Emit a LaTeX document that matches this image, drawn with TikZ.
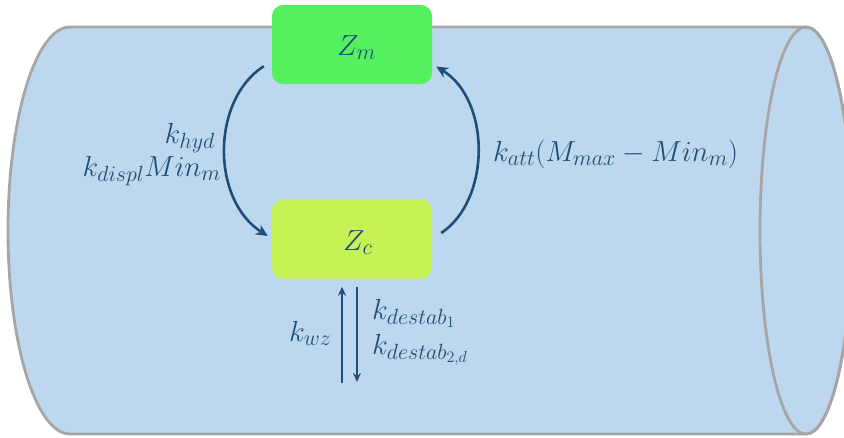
\documentclass[tikz,border=0pt]{standalone}
\usepackage{fix-cm}
\usetikzlibrary{arrows.meta}
\DeclareMathSizes{29}{29}{22}{16}
\definecolor{cylfill}{HTML}{BDD7EE}
\definecolor{cylline}{HTML}{A6A6A6}
\definecolor{darkblue}{HTML}{1F4E79}
\definecolor{zmgreen}{HTML}{55F05E}
\definecolor{zclime}{HTML}{C7F255}
\tikzset{
  box/.style={rounded corners=11pt, minimum width=160pt, minimum height=79pt, inner sep=0pt},
  lbl/.style={text=darkblue, font=\fontsize{29}{33}\selectfont, inner sep=0pt},
  flow/.style={draw=darkblue, line width=2.6pt, -{Stealth[length=12pt,width=11pt]}},
  cyl/.style={draw=cylline, line width=2.8pt, fill=cylfill}
}
\begin{document}
\begin{tikzpicture}[x=1pt,y=-1pt]
\useasboundingbox (0,0) rectangle (844,437);
\begin{scope}
\clip (0,0) rectangle (844,437);
% cylinder body
\path[cyl] (70,27) -- (806,27) arc[start angle=90, end angle=-90, x radius=46pt, y radius=203.5pt]
  -- (70,434) arc[start angle=270, end angle=90, x radius=62pt, y radius=203.5pt] -- cycle;
\draw[draw=cylline, line width=2.8pt] (806,230.5) ellipse [x radius=46pt, y radius=203.5pt];
\end{scope}
% boxes
\node[box, fill=zmgreen] (zm) at (352,44.5) {};
\node[box, fill=zclime] (zc) at (352,239) {};
\node[lbl, anchor=base west] (zmt) at (337,55) {$Z_m$};
\node[lbl, anchor=base west] (zct) at (343,250) {$Z_c$};
% curved arrows
\draw[flow] ([xshift=-8pt,yshift=18pt]zm.south west) .. controls (211,100) and (211,200) .. ([xshift=-4pt,yshift=3pt]zc.west);
\draw[flow] ([xshift=9pt,yshift=6pt]zc.east) .. controls (491,200) and (491,100) .. ([xshift=4pt,yshift=-22pt]zm.east);
% vertical arrows
\coordinate (upbot) at (342,383);
\coordinate (downbot) at (357,382);
\draw[flow, -{Stealth[length=9pt,width=8pt]}] (upbot) -- ([xshift=-10pt,yshift=-8pt]zc.south);
\draw[flow, -{Stealth[length=9pt,width=8pt]}] ([xshift=5pt,yshift=-8pt]zc.south) -- (downbot);
% labels
\node[lbl, anchor=base east] (khyd) at (215,143) {$k_{hyd}$};
\node[lbl, anchor=base east] (kdispl) at (221,176) {$k_{displ}Min_m$};
\node[lbl, anchor=base west] (katt) at (493,161) {$k_{att}(M_{max}-Min_m)$};
\node[lbl, anchor=base west] (kwz) at (289,341) {$k_{wz}$};
\node[lbl, anchor=base west] (kd1) at (372,319) {$k_{destab_1}$};
\node[lbl, anchor=base west] (kd2) at (372,354) {$k_{destab_{2,d}}$};
\end{tikzpicture}
\end{document}
